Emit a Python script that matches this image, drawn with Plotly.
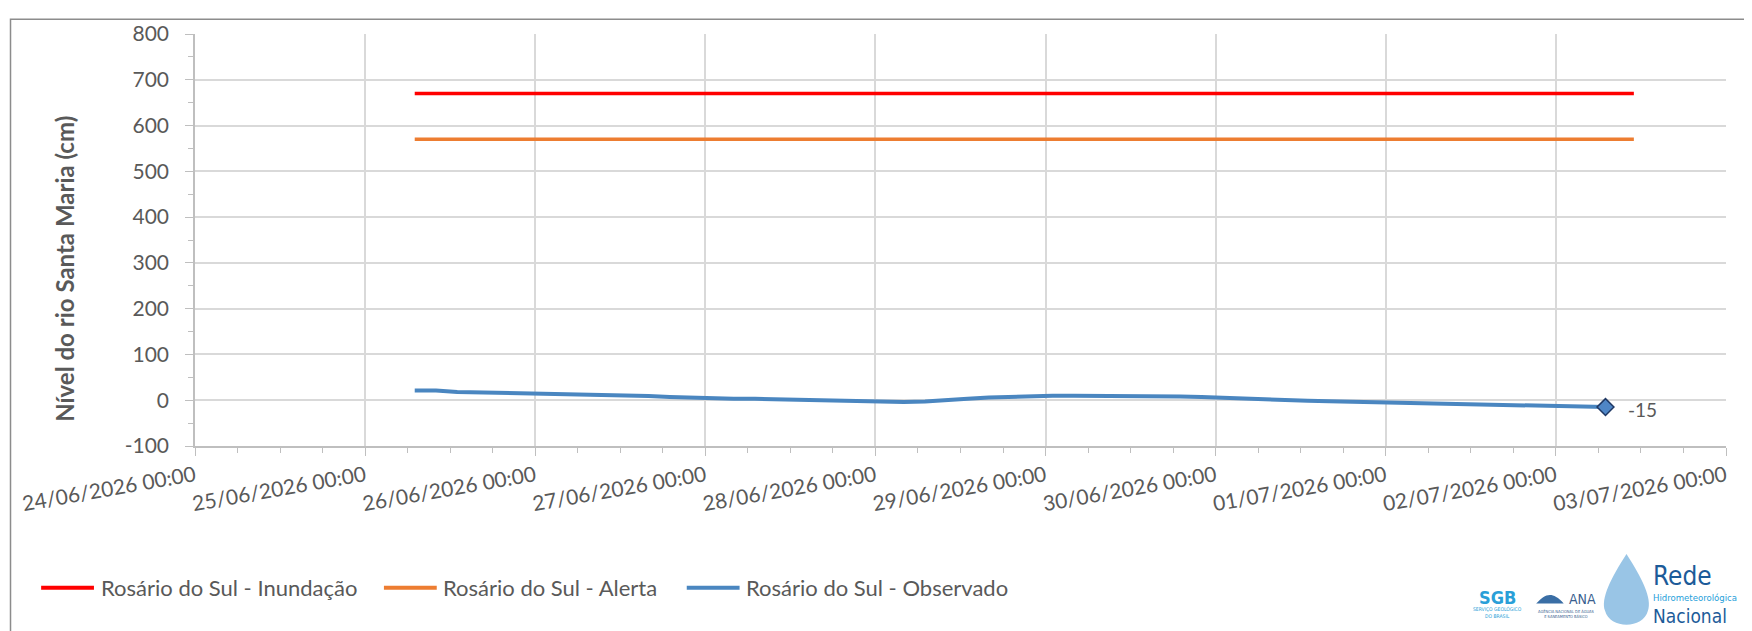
import pandas as pd
import plotly.graph_objects as go

# observed level (cm), read every 3 h from 25/06/2026 07:00
obs_start = "2026-06-25 07:00"
obs_values = [21, 21, 18, 17, 18, 17, 15, 14, 13, 12, 10, 9, 7, 5, 4, 3, 3, 2, 1,
              0, -1, -3, -4, -4, -3, -1, 3, 6, 8, 9, 10, 10, 10, 10, 9, 9, 8, 7,
              5, 4, 2, 0, -1, -2, -3, -4, -5, -6, -6, -7, -8, -8, -9, -10, -11,
              -13, -15]
obs_times = pd.date_range(obs_start, periods=len(obs_values), freq="3h")

# reference levels
ref_times = ["2026-06-25 07:00", "2026-07-02 11:00"]
inundacao = [670, 670]
alerta = [570, 570]

names = ["Rosário do Sul - Inundação", "Rosário do Sul - Alerta",
         "Rosário do Sul - Observado"]
colors = ["#ff0000", "#ed7d31", "#4a86c0"]

y_ticks = list(range(-100, 801, 100))
y_labels = [str(v) for v in y_ticks]
y_title = "Nível do rio Santa Maria (cm)"

grey = "#595959"
font_family = "Lato, 'Open Sans', sans-serif"
narrow = "'Liberation Sans Narrow', 'DejaVu Sans Condensed', 'Liberation Sans', sans-serif"

fig = go.Figure()
fig.add_trace(go.Scatter(x=ref_times, y=inundacao, mode="lines", name=names[0],
                         line=dict(color=colors[0], width=3.5)))
fig.add_trace(go.Scatter(x=ref_times, y=alerta, mode="lines", name=names[1],
                         line=dict(color=colors[1], width=3.5)))
fig.add_trace(go.Scatter(x=obs_times, y=obs_values, mode="lines", name=names[2],
                         line=dict(color=colors[2], width=4)))
# last observation marker
fig.add_trace(go.Scatter(x=[obs_times[-1]], y=[obs_values[-1]], mode="markers",
                         name=names[2],
                         marker=dict(symbol="diamond", size=13, color="#4f86c6",
                                     line=dict(color="#1f3864", width=1.5))))

fig.add_annotation(x=obs_times[-1], y=obs_values[-1], xref="x", yref="y",
                   text=str(obs_values[-1]), showarrow=False, xanchor="left",
                   xshift=20, yshift=-2, font=dict(size=19, color=grey))

fig.update_xaxes(type="date", range=["2026-06-24 00:00", "2026-07-03 00:00"],
                 dtick=86400000, tick0="2026-06-24 00:00",
                 tickformat="%d/%m/%Y %H:%M", tickangle=-10,
                 ticks="outside", ticklen=8, tickcolor="#bfbfbf",
                 showline=True, linecolor="#bfbfbf", linewidth=1.5,
                 showgrid=True, gridcolor="#d9d9d9", gridwidth=1.5,
                 minor=dict(dtick=6 * 3600000, ticks="outside", ticklen=5,
                            tickcolor="#bfbfbf", showgrid=False),
                 tickfont=dict(size=21, color=grey, family=font_family))

fig.update_yaxes(range=[-100, 800], tickvals=y_ticks, ticktext=y_labels,
                 zeroline=False,
                 ticks="outside", ticklen=8, tickcolor="#bfbfbf",
                 showline=True, linecolor="#bfbfbf", linewidth=1.5,
                 showgrid=True, gridcolor="#d9d9d9", gridwidth=1.5,
                 minor=dict(dtick=50, ticks="outside", ticklen=5,
                            tickcolor="#bfbfbf", showgrid=False),
                 ticklabelstandoff=12,
                 tickfont=dict(size=21, color=grey, family=font_family))

# y title, placed like Excel (slightly below the axis centre)
fig.add_annotation(x=-0.0849, y=0.43, xref="paper", yref="paper",
                   text="<b>" + y_title + "</b>", textangle=-90, showarrow=False,
                   xanchor="center", yanchor="middle",
                   font=dict(size=24, color=grey, family=font_family))

# outer frame
fig.add_shape(type="rect", xref="paper", yref="paper", x0=-0.1205, x1=1.0144,
              y0=-0.6, y1=1.036, line=dict(color="#8c8c8c", width=1.5))

# legend drawn below the plot (Excel style: long line samples)
leg_y = -0.344
leg_x = [-0.1005, 0.1234, 0.3212]
for name, col, lx in zip(names, colors, leg_x):
    fig.add_shape(type="line", xref="paper", yref="paper", x0=lx, x1=lx + 0.0345,
                  y0=leg_y, y1=leg_y, line=dict(color=col, width=4))
    fig.add_annotation(x=lx + 0.0375, y=leg_y, xref="paper", yref="paper", text=name,
                       showarrow=False, xanchor="left", yanchor="middle",
                       font=dict(size=22, color=grey, family=font_family))

# logo approximation
fig.add_shape(type="path", xref="paper", yref="paper",
              path="M 0.935 -0.262 C 0.925 -0.32 0.918 -0.37 0.921 -0.40 "
                   "C 0.924 -0.445 0.946 -0.445 0.949 -0.40 C 0.952 -0.37 0.945 -0.32 0.935 -0.262 Z",
              fillcolor="rgba(70,150,210,0.55)", line=dict(width=0))
fig.add_shape(type="path", xref="paper", yref="paper",
              path="M 0.876 -0.382 C 0.882 -0.36 0.886 -0.35 0.894 -0.382 Z",
              fillcolor="#3a6ea5", line=dict(width=0))
logo = [
    ("Rede", 0.951, -0.316, 26, "#1c5b99", "left"),
    ("Hidrometeorológica", 0.951, -0.368, 9.5, "#26a0da", "left"),
    ("Nacional", 0.951, -0.412, 19, "#1c5b99", "left"),
    ("<b>SGB</b>", 0.851, -0.368, 18, "#2a9fd8", "center"),
    ("ANA", 0.906, -0.371, 14, "#3a5f8f", "center"),
    ("SERVIÇO GEOLÓGICO<br>DO BRASIL", 0.851, -0.404, 5, "#2a9fd8", "center"),
    ("AGÊNCIA NACIONAL DE ÁGUAS<br>E SANEAMENTO BÁSICO", 0.8956, -0.407, 4, "#3a5f8f", "center"),
]
for txt, lx, ly, sz, col, anc in logo:
    fig.add_annotation(x=lx, y=ly, xref="paper", yref="paper", text=txt,
                       showarrow=False, xanchor=anc, yanchor="middle",
                       font=dict(size=sz, color=col, family=narrow))

fig.update_layout(
    width=1752, height=631,
    margin=dict(l=186, r=34, t=20, b=193),
    paper_bgcolor="white", plot_bgcolor="white",
    font=dict(family=font_family, color=grey),
    showlegend=False,
)

fig.write_html("out.html")
